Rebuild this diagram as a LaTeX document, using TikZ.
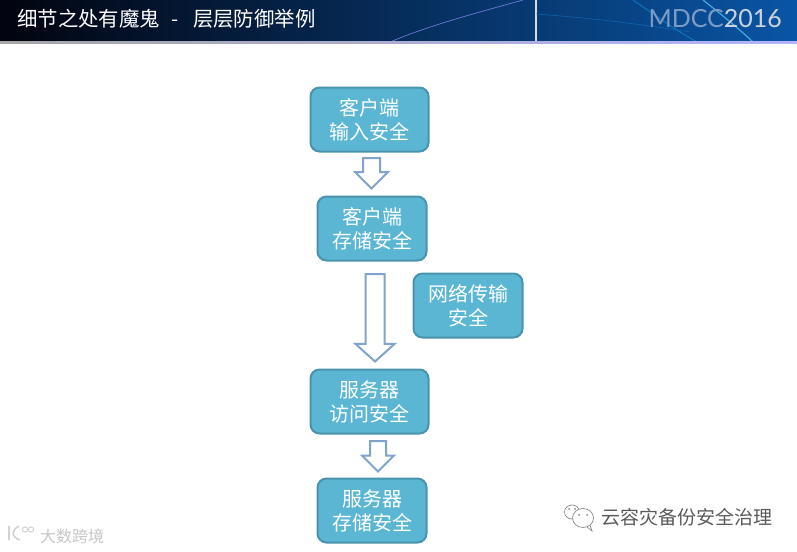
\documentclass[tikz,border=0pt]{standalone}
\usepackage{fontspec}
\setmainfont{Noto Sans CJK SC}
\newfontfamily\logofont{Lato}
\usetikzlibrary{arrows.meta,positioning,shapes.arrows}
\definecolor{boxfill}{HTML}{5BB6D3}
\definecolor{boxline}{HTML}{4A93AC}
\definecolor{arrline}{HTML}{7FA3CC}
\definecolor{bandleft}{HTML}{02040F}
\definecolor{bandmid}{HTML}{13174A}
\definecolor{bandright}{HTML}{0A55A5}
\definecolor{logoblue}{HTML}{7C9CC6}
\definecolor{logolight}{HTML}{CBD3DB}
\definecolor{markgray}{HTML}{8A8A8A}
\begin{document}
\begin{tikzpicture}[x=1pt,y=-1pt,
box/.style={draw=boxline,line width=2pt,rounded corners=9pt,fill=boxfill,text=white,align=center,font=\fontsize{20pt}{24pt}\selectfont,inner sep=0pt},
arr/.style={draw=arrline,line width=2pt,fill=white,shape=single arrow,shape border rotate=270,inner ysep=0pt,outer sep=0pt,anchor=tip}]
\useasboundingbox (0,0) rectangle (797,551);
% banner
\shade[left color=bandleft,middle color=bandmid,right color=bandright] (0,0) rectangle (797,42);
\draw[white!60!blue,line width=.7pt,opacity=.7] (390,42) .. controls (430,25) and (480,12) .. (523,0);
\draw[white!70!gray,line width=1.4pt] (536,0) -- (536,42);
\draw[cyan!60!blue,line width=.6pt,opacity=.6] (536,14) .. controls (590,18) and (640,24) .. (690,32);
\draw[cyan!70!blue,line width=1pt,opacity=.7] (633,0) .. controls (655,15) and (675,30) .. (697,42);
\draw[cyan!60!white,line width=1.2pt,opacity=.7] (703,0) .. controls (722,15) and (738,28) .. (753,42);
\shade[left color=gray!70,right color=blue!30!white] (0,42) rectangle (797,43.5);
\node[text=white,anchor=west,inner sep=0pt,font=\fontsize{20.4pt}{24pt}\selectfont] (title) at (17,19) {细节之处有魔鬼\hspace{12pt}-\hspace{14pt}层层防御举例};
\node[anchor=east,inner sep=0pt,font=\logofont\fontsize{25pt}{30pt}\selectfont] (logo) at (782,19) {\textcolor{logoblue}{MDCC}\textcolor{logolight}{2016}};
% boxes
\node[box,minimum width=118pt,minimum height=64pt] (input) at (369.5,119.5) {客户端\\输入安全};
\node[box,minimum width=109pt,minimum height=64pt] (store) at (372,228.5) {客户端\\存储安全};
\node[box,minimum width=109pt,minimum height=64pt] (net) at (468,305.5) {网络传输\\安全};
\node[box,minimum width=118pt,minimum height=64pt] (access) at (369.5,401.5) {服务器\\访问安全};
\node[box,minimum width=109pt,minimum height=64pt] (disk) at (372,510.5) {服务器\\存储安全};
% arrows
\node[arr,inner xsep=7.5pt,minimum height=30.5pt,single arrow head extend=8pt,single arrow tip angle=90] (a) at (371.5,188.5) {};
\node[arr,inner xsep=8.5pt,minimum height=87.5pt,single arrow head extend=10pt,single arrow tip angle=96] (b) at (375,361.5) {};
\node[arr,inner xsep=7pt,minimum height=30.5pt,single arrow head extend=8pt,single arrow tip angle=90] (c) at (378,471.5) {};
% watermarks
\draw[markgray,line width=.7pt] (572,512) ellipse (7.5pt and 7pt);
\draw[markgray,line width=.7pt,fill=white] (583,518) ellipse (10.5pt and 9.5pt);
\draw[markgray,line width=.7pt] (587,527) -- (592,531) -- (590,525);
\fill[markgray] (579,515) circle (1pt) (587,515) circle (1pt) (569,509) circle (1pt) (575,509) circle (1pt);
\node[text=black!65,anchor=west,inner sep=0pt,font=\fontsize{19pt}{22pt}\selectfont] (brand) at (601,517) {云容灾备份安全治理};
\draw[gray!35,line width=1.6pt] (9,526) -- (9,540) (19,526) .. controls (11,530) and (11,537) .. (20,540);
\draw[gray!35,line width=1pt] (25,529.5) circle (2.6pt) (31,529.5) circle (2.6pt);
\node[text=gray!45,anchor=west,inner sep=0pt,font=\fontsize{16pt}{18pt}\selectfont] (site) at (40,536.5) {大数跨境};
\end{tikzpicture}
\end{document}
